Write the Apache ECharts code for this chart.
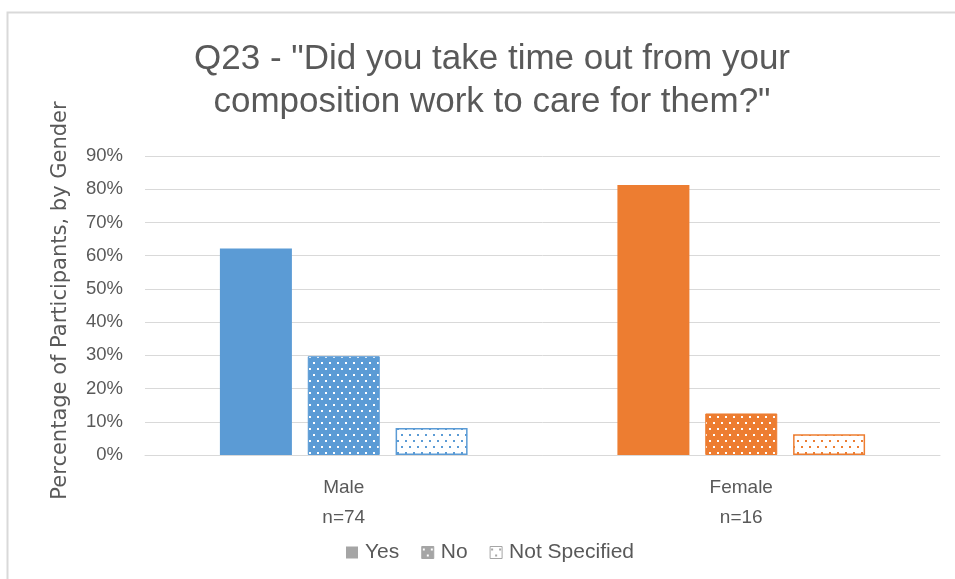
<!DOCTYPE html>
<html>
<head>
<meta charset="utf-8">
<style>
  html, body { margin: 0; padding: 0; background: #ffffff; }
  #chart { width: 955px; height: 579px; }
</style>
<script src="https://cdn.jsdelivr.net/npm/echarts@6/dist/echarts.min.js"></script>
</head>
<body>
<div id="chart"></div>
<script>
// Survey answers by gender, percentage of participants
const categories = ['Male\nn=74', 'Female\nn=16'];
const seriesNames = ['Yes', 'No', 'Not Specified'];
const yesValues = [62.16, 81.25];
const noValues = [29.73, 12.5];
const notSpecifiedValues = [8.11, 6.25];
const yTicks = [0, 10, 20, 30, 40, 50, 60, 70, 80, 90];

const genderColors = ['#5B9BD5', '#ED7D31'];
const legendGray = '#a5a5a5';
const FONT = '"Liberation Sans", Arial, sans-serif';

// Small repeating dot tile used as a pattern fill
function dotTile(bg, dot) {
  const c = document.createElement('canvas');
  c.width = 8; c.height = 12;
  const g = c.getContext('2d');
  g.fillStyle = bg;
  g.fillRect(0, 0, 8, 12);
  g.fillStyle = dot;
  g.fillRect(1, 2, 2, 2);
  g.fillRect(5, 8, 2, 2);
  return c;
}
function pattern(bg, dot) {
  return { image: dotTile(bg, dot), repeat: 'repeat' };
}

function itemsFor(values, kind) {
  return values.map((v, i) => {
    const col = genderColors[i];
    let style;
    if (kind === 'solid') style = { color: col };
    else if (kind === 'dense') style = { color: pattern(col, '#ffffff'), borderColor: col, borderWidth: 1 };
    else style = { color: pattern('#ffffff', col), borderColor: col, borderWidth: 1.5 };
    return { value: v, itemStyle: style };
  });
}

const chart = echarts.init(document.getElementById('chart'), null, { renderer: 'canvas' });

const barBase = { type: 'bar', barWidth: 72, barGap: '22%' };

chart.setOption({
  animation: false,
  backgroundColor: '#ffffff',
  title: {
    text: 'Q23 - "Did you take time out from your\ncomposition work to care for them?"',
    left: 487, textAlign: 'center', top: 33,
    textStyle: { fontFamily: FONT, fontSize: 35, fontWeight: 'normal', color: '#595959', lineHeight: 43 }
  },
  legend: {
    data: [
      { name: 'Yes', itemStyle: { color: legendGray } },
      { name: 'No', itemStyle: { color: pattern(legendGray, '#ffffff'), borderColor: legendGray, borderWidth: 1 } },
      { name: 'Not Specified', itemStyle: { color: pattern('#ffffff', legendGray), borderColor: legendGray, borderWidth: 1 } }
    ],
    left: 341, top: 537,
    icon: 'rect', itemWidth: 12, itemHeight: 12, itemGap: 22,
    textStyle: { fontFamily: FONT, fontSize: 21, color: '#595959', padding: [0, 0, 0, 2] }
  },
  grid: { left: 145, right: 15, top: 156, bottom: 124, containLabel: false },
  xAxis: {
    type: 'category',
    data: categories,
    axisLine: { lineStyle: { color: '#d9d9d9', width: 1 } },
    axisTick: { show: false },
    axisLabel: { margin: 18, fontFamily: FONT, fontSize: 19, color: '#595959', lineHeight: 30 }
  },
  yAxis: {
    type: 'value',
    min: yTicks[0], max: yTicks[yTicks.length - 1], interval: 10,
    name: 'Percentage of Participants, by Gender',
    nameLocation: 'middle', nameGap: 74, nameRotate: 90,
    nameTextStyle: { fontFamily: '"DejaVu Sans", sans-serif', fontSize: 21, color: '#595959', padding: [0, 0, 0, 10] },
    axisLine: { show: false },
    axisTick: { show: false },
    splitLine: { lineStyle: { color: '#d9d9d9', width: 1 } },
    axisLabel: { margin: 22, fontFamily: FONT, fontSize: 18.5, color: '#595959', formatter: v => v + '%' }
  },
  series: [
    Object.assign({ name: seriesNames[0], data: itemsFor(yesValues, 'solid') }, barBase),
    Object.assign({ name: seriesNames[1], data: itemsFor(noValues, 'dense') }, barBase),
    Object.assign({ name: seriesNames[2], data: itemsFor(notSpecifiedValues, 'sparse') }, barBase)
  ],
  graphic: [
    { type: 'rect', shape: { x: 7.5, y: 12.5, width: 1000, height: 1000 },
      style: { fill: 'none', stroke: '#d9d9d9', lineWidth: 2 }, silent: true }
  ]
});
</script>
</body>
</html>
